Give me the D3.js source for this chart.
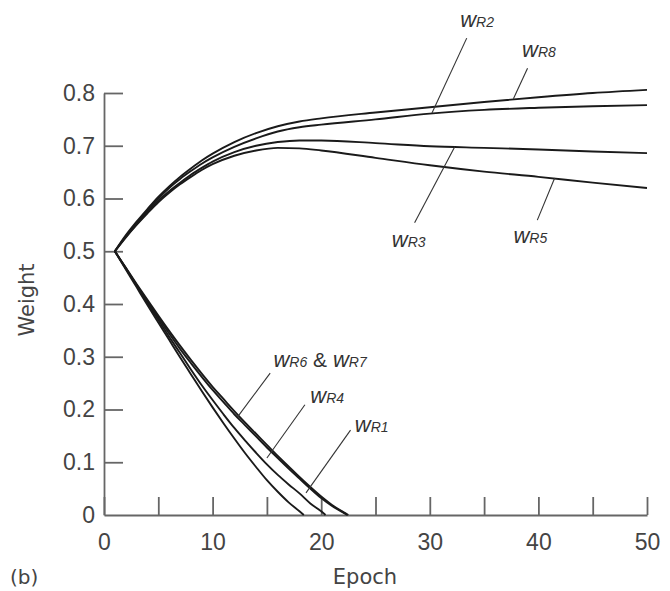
<!DOCTYPE html>
<html>
<head>
<meta charset="utf-8">
<script src="https://cdn.jsdelivr.net/npm/d3@7"></script>
<style>
  body { margin: 0; background: #fff; }
  svg { display: block; font-family: "DejaVu Sans", "Liberation Sans", sans-serif; }
  .axis path, .axis line { stroke: #666; stroke-width: 1.8; }
  .axis text { fill: #444; font-size: 23px; }
</style>
</head>
<body>
<svg width="670" height="591"></svg>
<script>
// weight vs epoch: [epoch, weight]
var wR8 = [[1,.5],[2,.53],[3,.556],[4,.58],[5,.603],[6,.623],[7,.641],[8,.657],[9,.672],[10,.685],[12,.707],[14,.724],[16,.737],[18,.746],[20,.752],[25,.763],[30,.773],[35,.783],[40,.792],[45,.8],[50,.806]];
var wR2 = [[1,.5],[2,.528],[3,.553],[4,.577],[5,.6],[6,.62],[7,.637],[8,.652],[9,.666],[10,.678],[12,.698],[14,.714],[16,.727],[18,.735],[20,.74],[25,.75],[30,.761],[35,.768],[40,.772],[45,.775],[50,.777]];
var wR3 = [[1,.5],[2,.527],[3,.551],[4,.574],[5,.596],[6,.614],[7,.63],[8,.645],[9,.658],[10,.67],[12,.688],[14,.7],[16,.707],[18,.71],[20,.71],[25,.705],[30,.699],[35,.696],[40,.693],[45,.689],[50,.686]];
var wR5 = [[1,.5],[2,.526],[3,.55],[4,.572],[5,.593],[6,.611],[7,.627],[8,.641],[9,.654],[10,.665],[12,.681],[14,.691],[16,.696],[18,.695],[20,.691],[25,.677],[30,.663],[35,.651],[40,.641],[45,.63],[50,.62]];
var wR6 = [[1,.5],[2,.469],[3,.438],[4,.408],[5,.378],[6,.349],[7,.321],[8,.294],[9,.268],[10,.243],[11,.22],[12,.197],[13,.175],[14,.154],[15,.133],[16,.112],[17,.092],[18,.072],[19,.053],[20,.035],[21,.019],[22,.006],[22.5,0]];
var wR7 = [[1,.5],[2,.468],[3,.436],[4,.405],[5,.374],[6,.344],[7,.315],[8,.288],[9,.262],[10,.237],[11,.214],[12,.191],[13,.17],[14,.149],[15,.128],[16,.108],[17,.088],[18,.069],[19,.05],[20,.032],[21,.017],[22,.005],[22.4,0]];
var wR4 = [[1,.5],[2,.468],[3,.435],[4,.402],[5,.37],[6,.338],[7,.307],[8,.276],[9,.246],[10,.218],[11,.191],[12,.165],[13,.141],[14,.118],[15,.096],[16,.076],[17,.058],[18,.041],[19,.022],[20,.007],[20.4,0]];
var wR1 = [[1,.5],[2,.466],[3,.432],[4,.398],[5,.365],[6,.332],[7,.299],[8,.267],[9,.235],[10,.204],[11,.174],[12,.145],[13,.117],[14,.091],[15,.066],[16,.044],[17,.024],[18,.007],[18.4,0]];

var series = [wR8, wR2, wR3, wR5, wR6, wR7, wR4, wR1];

var xTicks = [0, 5, 10, 15, 20, 25, 30, 35, 40, 45, 50];
var xTickLabels = [0, 10, 20, 30, 40, 50];
var yTicks = [0, 0.1, 0.2, 0.3, 0.4, 0.5, 0.6, 0.7, 0.8];

// labels: [subscripts, label epoch, label weight, leader start epoch/weight, leader tip epoch/weight]
var labels = [
  [["R2"], 32.8, 0.925, 33.4, 0.904, 30.2, 0.762],
  [["R8"], 38.5, 0.868, 39.0, 0.847, 37.7, 0.789],
  [["R3"], 26.5, 0.508, 28.6, 0.554, 32.3, 0.698],
  [["R5"], 37.7, 0.516, 39.9, 0.559, 41.5, 0.639],
  [["R6", "R7"], 15.6, 0.281, 15.3, 0.269, 12.3, 0.186],
  [["R4"], 19.0, 0.212, 18.5, 0.209, 15.0, 0.108],
  [["R1"], 23.1, 0.157, 22.7, 0.161, 18.6, 0.042]
];

var svg = d3.select("svg");

var x = d3.scaleLinear().domain([0, 50]).range([104, 647]);
var y = d3.scaleLinear().domain([0, 0.8]).range([515, 93]);

// x axis, ticks pointing up
var xAxis = svg.append("g")
    .attr("class", "axis")
    .attr("transform", "translate(0," + y(0) + ")")
    .call(d3.axisBottom(x)
        .tickValues(xTicks)
        .tickSize(-18)
        .tickSizeOuter(0)
        .tickFormat(function(d) { return xTickLabels.indexOf(d) >= 0 ? d : ""; }));
xAxis.selectAll(".tick text").attr("dy", "0.75em").attr("y", 18);

// y axis, ticks pointing right
var yAxis = svg.append("g")
    .attr("class", "axis")
    .attr("transform", "translate(" + x(0) + ",0)")
    .call(d3.axisLeft(y)
        .tickValues(yTicks)
        .tickSize(-19)
        .tickSizeOuter(0)
        .tickFormat(function(d) { return d === 0 ? "0" : d3.format(".1f")(d); }));
yAxis.selectAll(".tick text").attr("x", -9);
yAxis.selectAll(".tick").filter(function(d) { return d === 0; }).select("line").remove();

var line = d3.line()
    .x(function(d) { return x(d[0]); })
    .y(function(d) { return y(d[1]); })
    .curve(d3.curveMonotoneX);

svg.append("g")
  .selectAll("path")
  .data(series)
  .enter().append("path")
    .attr("d", line)
    .attr("fill", "none")
    .attr("stroke", "#1a1a1a")
    .attr("stroke-width", 1.9);

// leaders
svg.append("g")
  .selectAll("line")
  .data(labels)
  .enter().append("line")
    .attr("x1", function(d) { return x(d[3]); })
    .attr("y1", function(d) { return y(d[4]); })
    .attr("x2", function(d) { return x(d[5]); })
    .attr("y2", function(d) { return y(d[6]); })
    .attr("stroke", "#333")
    .attr("stroke-width", 1.1);

var lab = svg.append("g")
  .selectAll("text")
  .data(labels)
  .enter().append("text")
    .attr("x", function(d) { return x(d[1]); })
    .attr("y", function(d) { return y(d[2]); })
    .attr("fill", "#333")
    .style("font-family", "'Liberation Sans', sans-serif")
    .style("font-style", "italic");

lab.each(function(d) {
  var t = d3.select(this);
  d[0].forEach(function(s, i) {
    if (i > 0) t.append("tspan").style("font-style", "normal").attr("font-size", 21).text(" & ");
    t.append("tspan").attr("font-size", 22).text("w");
    t.append("tspan").attr("font-size", 14).text(s);
  });
});

svg.append("text")
    .attr("transform", "translate(34,300) rotate(-90)")
    .attr("text-anchor", "middle")
    .attr("fill", "#444")
    .attr("font-size", 21)
    .text("Weight");

svg.append("text")
    .attr("x", 365)
    .attr("y", 584)
    .attr("text-anchor", "middle")
    .attr("fill", "#444")
    .attr("font-size", 21)
    .text("Epoch");

svg.append("text")
    .attr("x", 10)
    .attr("y", 584)
    .attr("fill", "#444")
    .attr("font-size", 20)
    .text("(b)");
</script>
</body>
</html>
